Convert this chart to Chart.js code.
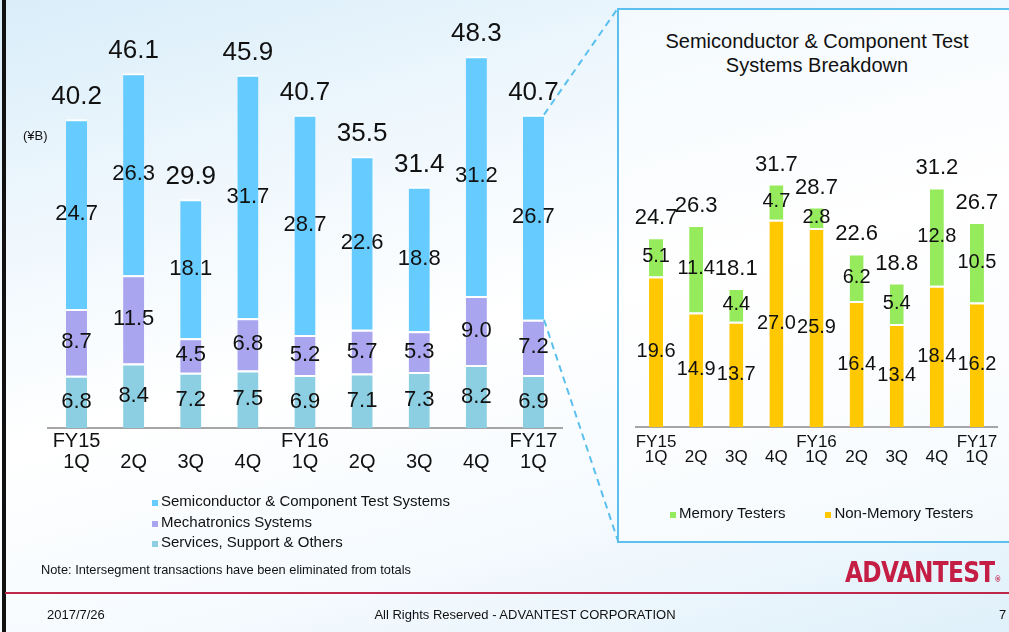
<!DOCTYPE html>
<html>
<head>
<meta charset="utf-8">
<script src="https://cdn.jsdelivr.net/npm/chart.js@4.4.1/dist/chart.umd.min.js"></script>
<style>
  html, body { margin: 0; padding: 0; }
  body {
    width: 1009px; height: 632px; position: relative; overflow: hidden;
    font-family: "Liberation Sans", Arial, sans-serif; color: #111;
    background: linear-gradient(165deg, #d9edf9 0%, #eef7fd 25%, #ffffff 50%, #f5fafe 75%, #dff0fa 100%);
  }
  .abs { position: absolute; }
  #leftEdge { left: 2px; top: 0; width: 4px; height: 632px; background: #111; }
  #box { left: 617px; top: 8px; width: 400px; height: 531px; border: 2px solid #5bc0ee; background: rgba(255,255,255,0.45); }
  #boxTitle { left: 617px; top: 29px; width: 400px; text-align: center; font-size: 20px; line-height: 24px; }
  .legend { font-size: 15px; white-space: nowrap; }
  .legend span.mk { display: inline-block; width: 6px; height: 6px; margin-right: 3px; vertical-align: 0; }
  #unit { left: 23px; top: 128px; font-size: 13px; }
  #note { left: 41px; top: 562px; font-size: 12.8px; }
  #redLine { left: 5px; top: 592px; width: 1004px; height: 2px; background: #c0264a; }
  #date { left: 47px; top: 607px; font-size: 13px; }
  #copy { left: 300px; width: 450px; top: 607px; font-size: 13px; text-align: center; }
  #page { left: 999px; top: 607px; font-size: 13px; }
  #logo { left: 845px; top: 557px; font-family: "DejaVu Sans", sans-serif; font-size: 28px; font-weight: bold;
          color: #c41e45; line-height: 32px; transform: scale(0.83, 1); transform-origin: left top;
          letter-spacing: -0.8px; white-space: nowrap; }
  #logo sup { font-size: 8px; vertical-align: 0; letter-spacing: 0; }
</style>
</head>
<body>
<div id="leftEdge" class="abs"></div>
<div id="box" class="abs"></div>
<div id="boxTitle" class="abs">Semiconductor &amp; Component Test<br>Systems Breakdown</div>
<canvas id="leftChart" class="abs" style="left:0;top:0" width="600" height="490"></canvas>
<canvas id="rightChart" class="abs" style="left:619px;top:0" width="390" height="477"></canvas>
<svg id="links" class="abs" style="left:0;top:0" width="1009" height="632"></svg>
<div id="unit" class="abs">(¥B)</div>
<div id="leftLegend" class="abs legend" style="left:152px;top:492px"></div>
<div id="rightLegend" class="abs legend" style="left:670px;top:504px"></div>
<div id="note" class="abs">Note: Intersegment transactions have been eliminated from totals</div>
<div id="logo" class="abs">ADVANTEST<sup>®</sup></div>
<div id="redLine" class="abs"></div>
<div id="date" class="abs">2017/7/26</div>
<div id="copy" class="abs">All Rights Reserved - ADVANTEST CORPORATION</div>
<div id="page" class="abs">7</div>

<script>
// quarters (two-line tick labels)
const quarters = [["FY15", "1Q"], ["", "2Q"], ["", "3Q"], ["", "4Q"], ["FY16", "1Q"], ["", "2Q"], ["", "3Q"], ["", "4Q"], ["FY17", "1Q"]];

// left chart: net sales by segment (¥B)
const semiTest = [24.7, 26.3, 18.1, 31.7, 28.7, 22.6, 18.8, 31.2, 26.7];
const mechatronics = [8.7, 11.5, 4.5, 6.8, 5.2, 5.7, 5.3, 9.0, 7.2];
const services = [6.8, 8.4, 7.2, 7.5, 6.9, 7.1, 7.3, 8.2, 6.9];
const salesTotals = [40.2, 46.1, 29.9, 45.9, 40.7, 35.5, 31.4, 48.3, 40.7];

// right chart: test systems breakdown (¥B)
const memoryTesters = [5.1, 11.4, 4.4, 4.7, 2.8, 6.2, 5.4, 12.8, 10.5];
const nonMemoryTesters = [19.6, 14.9, 13.7, 27.0, 25.9, 16.4, 13.4, 18.4, 16.2];
const testTotals = [24.7, 26.3, 18.1, 31.7, 28.7, 22.6, 18.8, 31.2, 26.7];

const leftNames = ["Semiconductor & Component Test Systems", "Mechatronics Systems", "Services, Support & Others"];
const leftColors = ["#66ccff", "#a9a5ef", "#8ccfe2"];
const rightNames = ["Memory Testers", "Non-Memory Testers"];
const rightColors = ["#96eb5c", "#ffc800"];

const FONT = '"Liberation Sans", Arial, sans-serif';

// value labels inside segments and totals above the bars
const barLabels = {
    id: "barLabels",
    afterDatasetsDraw(chart, args, opts) {
        const ctx = chart.ctx;
        ctx.save();
        ctx.fillStyle = "#111";
        ctx.textAlign = "center";
        ctx.textBaseline = "middle";
        ctx.font = opts.segSize + "px " + FONT;
        chart.data.datasets.forEach((ds, i) => {
            chart.getDatasetMeta(i).data.forEach((bar, j) => {
                ctx.fillText(ds.data[j].toFixed(1), bar.x, (bar.y + bar.base) / 2);
            });
        });
        const tops = chart.getDatasetMeta(chart.data.datasets.length - 1).data;
        ctx.font = opts.totSize + "px " + FONT;
        opts.totals.forEach((t, j) => {
            ctx.fillText(t.toFixed(1), tops[j].x, tops[j].y - opts.totGap);
        });
        ctx.restore();
    }
};

function stackedOptions(cfg) {
    return {
        responsive: false,
        animation: false,
        layout: { padding: cfg.padding },
        plugins: {
            legend: { display: false },
            tooltip: { enabled: false },
            barLabels: { segSize: cfg.segSize, totSize: cfg.totSize, totGap: cfg.totGap, totals: cfg.totals }
        },
        scales: {
            x: {
                stacked: true,
                grid: { display: false },
                border: { display: true, color: "#a6a6a6", width: 2 },
                ticks: { color: "#111", padding: cfg.tickPad, maxRotation: 0, autoSkip: false,
                         font: { family: FONT, size: cfg.tickSize, lineHeight: cfg.tickLine } },
                afterFit: (scale) => { scale.height = cfg.axisHeight; }
            },
            y: { stacked: true, display: false, min: 0, max: 50 }
        }
    };
}

function bar(label, data, color, pct) {
    return {
        label: label, data: data, backgroundColor: color,
        borderColor: "#ffffff", borderWidth: { top: 2, left: 0, right: 0, bottom: 0 }, borderSkipped: "start",
        barPercentage: pct, categoryPercentage: 1
    };
}

const leftChart = new Chart(document.getElementById("leftChart"), {
    type: "bar",
    data: {
        labels: quarters,
        datasets: [
            bar(leftNames[2], services, leftColors[2], 0.37),
            bar(leftNames[1], mechatronics, leftColors[1], 0.37),
            bar(leftNames[0], semiTest, leftColors[0], 0.37)
        ]
    },
    options: stackedOptions({
        padding: { left: 48, right: 38, top: 44, bottom: 0 },
        segSize: 22, totSize: 26, totGap: 22, totals: salesTotals,
        tickSize: 20, tickLine: "21px", tickPad: -5, axisHeight: 62
    }),
    plugins: [barLabels]
});

const rightChart = new Chart(document.getElementById("rightChart"), {
    type: "bar",
    data: {
        labels: quarters,
        datasets: [
            bar(rightNames[1], nonMemoryTesters, rightColors[1], 0.35),
            bar(rightNames[0], memoryTesters, rightColors[0], 0.35)
        ]
    },
    options: stackedOptions({
        padding: { left: 17, right: 12, top: 43, bottom: 0 },
        segSize: 20, totSize: 22, totGap: 19, totals: testTotals,
        tickSize: 17, tickLine: "15px", tickPad: 0, axisHeight: 50
    }),
    plugins: [barLabels]
});

// legends
function buildLegend(el, names, colors, horizontal) {
    names.forEach((n, i) => {
        const row = document.createElement("div");
        row.style.display = horizontal ? "inline-block" : "block";
        row.style.height = "20.5px";
        row.style.marginRight = horizontal ? "40px" : "0";
        row.innerHTML = '<span class="mk" style="background:' + colors[i] + '"></span>';
        row.appendChild(document.createTextNode(n));
        el.appendChild(row);
    });
}
buildLegend(document.getElementById("leftLegend"), leftNames, leftColors, false);
buildLegend(document.getElementById("rightLegend"), rightNames, rightColors, true);

// dashed connectors from the last bar to the breakdown box
const lastSemi = leftChart.getDatasetMeta(2).data[8];
const lastMecha = leftChart.getDatasetMeta(1).data[8];
const edgeX = lastSemi.x + lastSemi.width / 2;
const svg = document.getElementById("links");
[[lastSemi.y, 8], [lastMecha.y, 541]].forEach(([y1, y2]) => {
    const ln = document.createElementNS("http://www.w3.org/2000/svg", "line");
    ln.setAttribute("x1", edgeX); ln.setAttribute("y1", y1);
    ln.setAttribute("x2", 618); ln.setAttribute("y2", y2);
    ln.setAttribute("stroke", "#5bc0ee");
    ln.setAttribute("stroke-width", "2");
    ln.setAttribute("stroke-dasharray", "7 5");
    svg.appendChild(ln);
});
</script>
</body>
</html>
